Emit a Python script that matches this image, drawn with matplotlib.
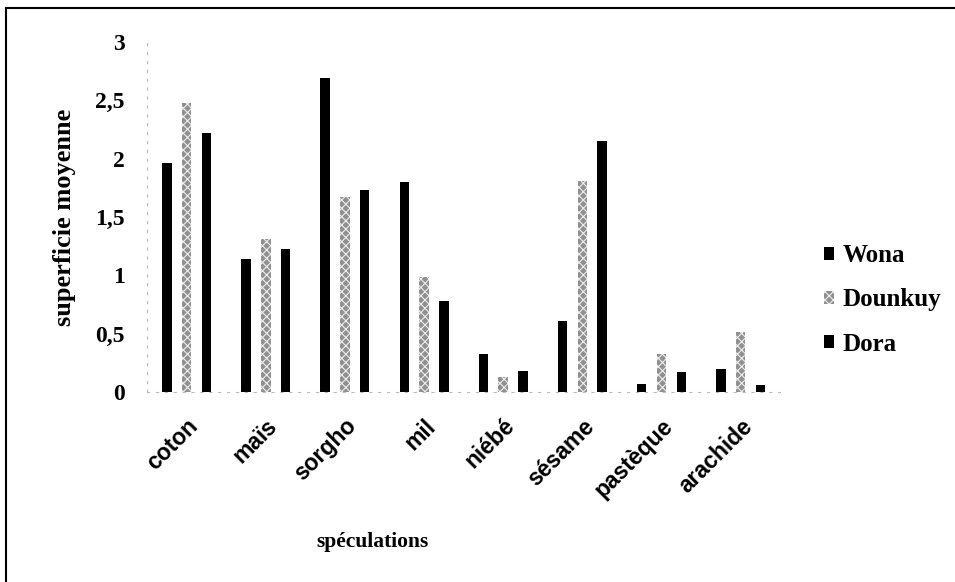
import numpy as np
from matplotlib import pyplot as plt
from matplotlib.lines import Line2D
from matplotlib.ticker import FuncFormatter

# Données
speculations = ["coton", "maïs", "sorgho", "mil", "niébé", "sésame", "pastèque", "arachide"]
wona = [1.96, 1.14, 2.69, 1.80, 0.33, 0.61, 0.07, 0.20]
dounkuy = [2.48, 1.31, 1.67, 0.99, 0.13, 1.81, 0.33, 0.52]
dora = [2.22, 1.23, 1.73, 0.78, 0.18, 2.15, 0.17, 0.06]
villages = ["Wona", "Dounkuy", "Dora"]

plt.rcParams['font.family'] = ['Liberation Serif', 'DejaVu Serif']
plt.rcParams['font.weight'] = 'bold'
plt.rcParams['hatch.color'] = '#eeeeee'
plt.rcParams['hatch.linewidth'] = 0.8

fig = plt.figure(figsize=(9.55, 5.82), dpi=100)
ax = fig.add_axes([0.154, 0.326, 0.663, 0.602])

x = np.arange(len(speculations))
pas = 0.25
largeur = 0.12
ax.bar(x - pas, wona, largeur, color='black', label=villages[0])
ax.bar(x, dounkuy, largeur, color='#909090', hatch='xxxx', linewidth=0, label=villages[1])
ax.bar(x + pas, dora, largeur, color='black', label=villages[2])

ax.set_xlim(-0.5, len(speculations) - 0.5)
ax.set_ylim(0, 3)
ax.set_yticks(np.arange(0, 3.01, 0.5))
ax.yaxis.set_major_formatter(FuncFormatter(lambda v, p: f"{v:g}".replace('.', ',')))
ax.set_xticks(x)
ax.set_xticklabels(speculations, rotation=45, ha='right', rotation_mode='anchor',
                   family=['Liberation Sans', 'DejaVu Sans'], fontsize=16.5, fontweight='bold')
ax.tick_params(axis='y', length=0, labelsize=17, pad=16)
ax.tick_params(axis='x', length=0, pad=16)

for s in ['top', 'right']:
    ax.spines[s].set_visible(False)
for s in ['left', 'bottom']:
    ax.spines[s].set_color('#bbbbbb')
    ax.spines[s].set_linestyle((0, (2, 6)))
    ax.spines[s].set_linewidth(0.8)

ax.set_ylabel("superficie moyenne", fontsize=19, fontweight='bold', labelpad=14)
fig.text(372 / 955, 1 - 542 / 582, "spéculations", fontsize=15.5, fontweight='bold',
         ha='center', va='center')

leg = fig.legend(loc='center left', bbox_to_anchor=(0.852, 1 - 300 / 582), frameon=False,
                 fontsize=18, handlelength=0.4, handleheight=0.4, handletextpad=0.35,
                 labelspacing=0.85, borderaxespad=0)

# cadre de la figure
fig.add_artist(Line2D([6 / 955, 1.0], [1 - 8 / 582] * 2, color='black', lw=1.5))
fig.add_artist(Line2D([6 / 955] * 2, [0, 1 - 8 / 582], color='black', lw=1.5))

fig.savefig("out.png", dpi=100)
